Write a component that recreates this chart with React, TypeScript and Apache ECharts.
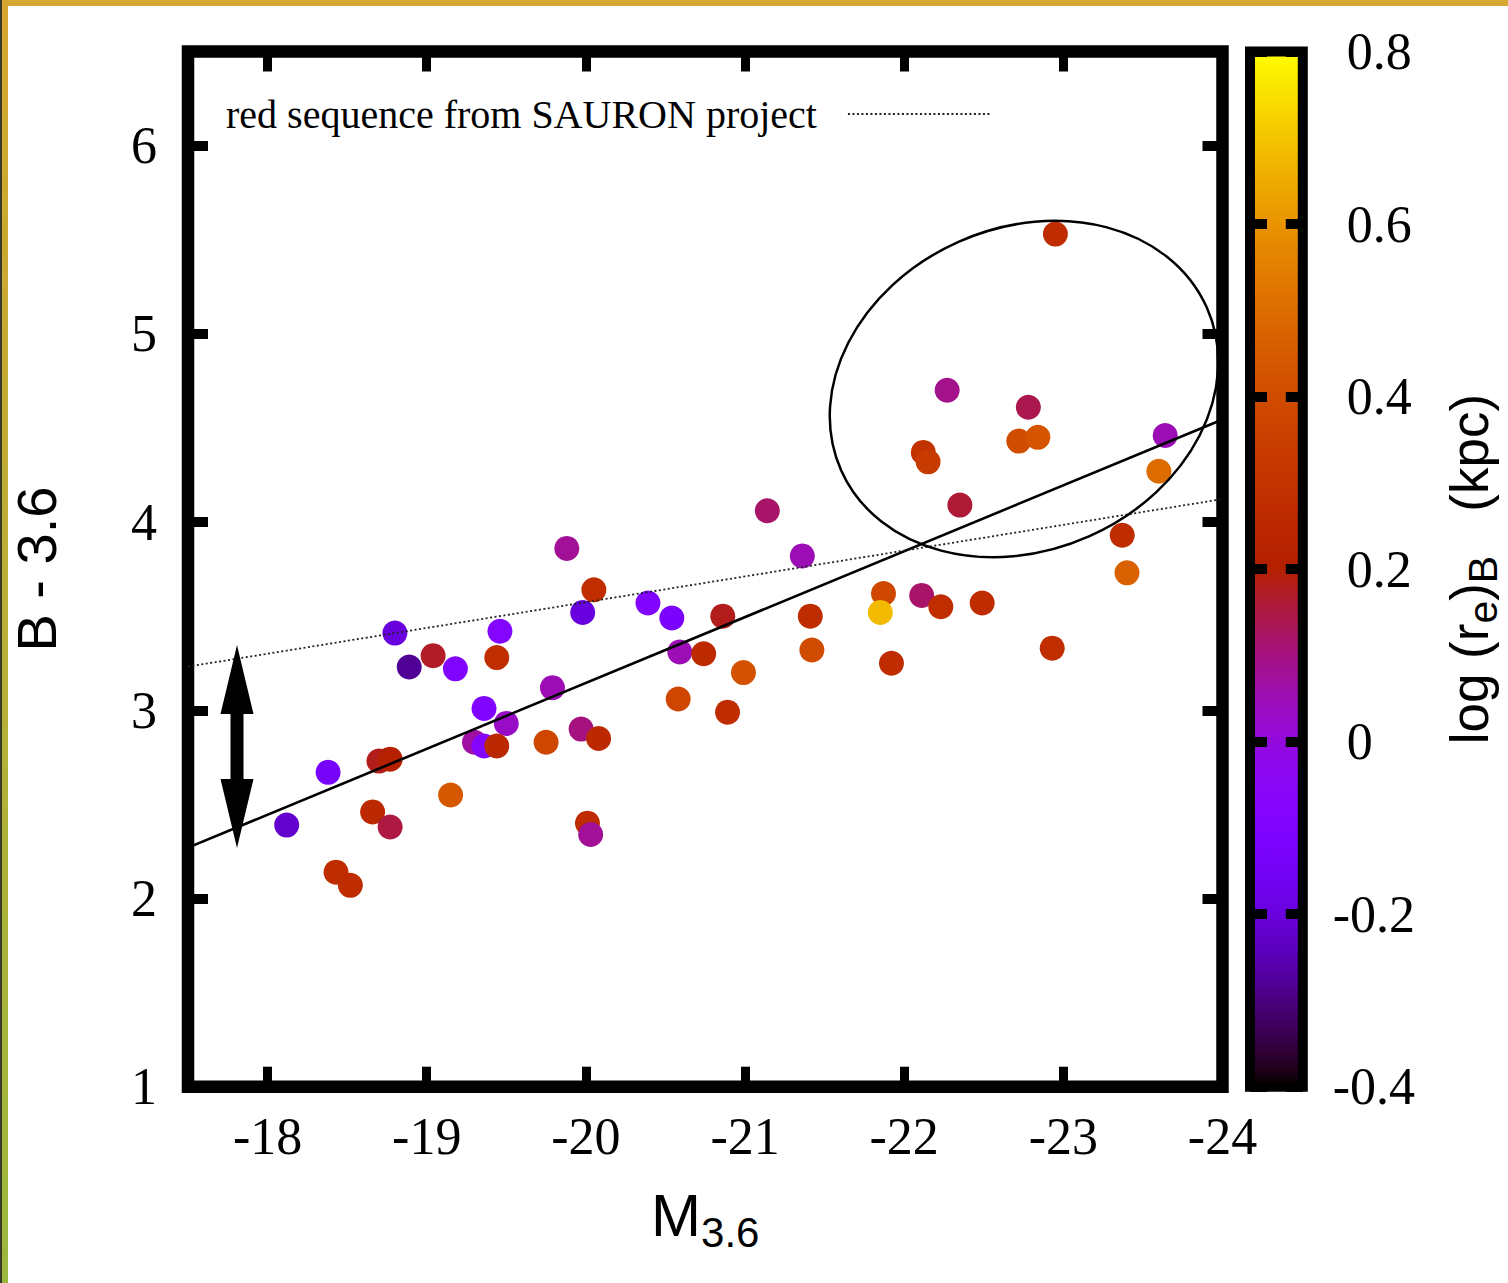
import React, { useEffect, useRef } from 'react';
import * as echarts from 'echarts';

// ---- data ----
const absMag = [
  -19.88, -20.05, -19.98, -20.39, -20.54, -20.59, -20.74, -20.58, -18.80, -18.89,
  -19.04, -19.18, -19.46, -19.44, -19.79, -19.36, -19.50, -19.30, -19.36, -19.44,
  -19.75, -19.97, -20.08, -18.38, -18.70, -18.77, -18.12, -18.66, -18.77, -19.15,
  -20.01, -20.03, -18.43, -18.52, -22.95, -22.27, -22.78, -22.72, -22.84, -22.12,
  -22.15, -23.64, -23.60, -22.35, -21.14, -21.36, -23.37, -23.40, -21.87, -21.85,
  -22.11, -22.23, -22.49, -20.86, -21.41, -21.42, -20.99, -21.92, -22.93, -20.89,
];
const colorBI = [
  3.86, 3.64, 3.52, 3.57, 3.49, 3.31, 3.30, 3.06, 3.41, 3.23,
  3.29, 3.22, 3.42, 3.28, 3.12, 3.01, 2.93, 2.83, 2.81, 2.81,
  2.83, 2.90, 2.85, 2.67, 2.73, 2.74, 2.39, 2.46, 2.38, 2.55,
  2.40, 2.34, 2.14, 2.07, 5.53, 4.70, 4.61, 4.43, 4.45, 4.37,
  4.32, 4.46, 4.27, 4.09, 4.06, 3.82, 3.93, 3.73, 3.62, 3.52,
  3.61, 3.55, 3.57, 3.50, 3.50, 3.32, 3.20, 3.25, 3.33, 2.99,
];
const logRe = [
  0.08, 0.28, -0.20, -0.10, -0.12, 0.05, 0.26, 0.38, -0.20, -0.28,
  0.17, -0.10, -0.08, 0.28, 0.05, -0.10, 0.03, 0.07, -0.08, 0.25,
  0.38, 0.10, 0.25, -0.14, 0.18, 0.20, -0.22, 0.25, 0.15, 0.44,
  0.27, 0.08, 0.27, 0.27, 0.27, 0.09, 0.14, 0.40, 0.43, 0.30,
  0.33, 0.05, 0.50, 0.16, 0.12, 0.05, 0.27, 0.47, 0.38, 0.68,
  0.12, 0.28, 0.27, 0.18, 0.27, 0.40, 0.42, 0.27, 0.28, 0.27,
];
// fitted relation (solid) and SAURON red sequence (dotted)
const fitLineX = [-17.5, -24];
const fitLineY = [2.27, 4.545];
const sauronX = [-17.5, -24];
const sauronY = [3.232, 4.122];

// axis ranges
const xRange = [-24, -17.5];
const yRange = [1, 6.5];
const cbRange = [-0.4, 0.8];
const sauronName = 'red sequence from SAURON project';

// gnuplot default palette (rgbformulae 7,5,15)
function gp(t: number) {
  const r = Math.sqrt(t);
  const g = t * t * t;
  const b = Math.max(0, Math.sin(2 * Math.PI * t));
  const c = (v: number) => Math.round(Math.min(1, Math.max(0, v)) * 255);
  return `rgb(${c(r)},${c(g)},${c(b)})`;
}
const N = 60;
const paletteColors: string[] = [];
for (let i = 0; i <= N; i++) paletteColors.push(gp(i / N));

export default function App() {
  const ref = useRef<HTMLDivElement>(null);
  useEffect(() => {
    const chart = echarts.init(ref.current!, null, { renderer: 'svg' });
    const scatterData = absMag.map((x, i) => [x, colorBI[i], logRe[i]]);
    const fitData = fitLineX.map((x, i) => [x, fitLineY[i]]);
    const sauronData = sauronX.map((x, i) => [x, sauronY[i]]);
    const serif = 'Liberation Serif';
    const sans = 'Liberation Sans';
    const tickLabel = { fontFamily: serif, fontSize: 52, color: '#000' };
    const cbGradient = {
      type: 'linear', x: 0, y: 1, x2: 0, y2: 0,
      colorStops: paletteColors.map((c, i) => ({ offset: i / N, color: c })),
    };
    const fmtCb = (v: number) => {
      const s = Math.abs(v) < 1e-9 ? '0' : String(+v.toFixed(1));
      return v < -1e-9 ? '{n|' + s + '}' : '{p|' + s + '}';
    };
    const option: any = {
      animation: false,
      backgroundColor: '#fff',
      grid: [
        { left: 187.6, top: 51.5, width: 1034.9, height: 1035.2, show: true, borderColor: '#000', borderWidth: 12.5, backgroundColor: 'transparent' },
        { left: 1250, top: 51.5, width: 52.8, height: 1035.2, show: true, borderColor: '#000', borderWidth: 10, backgroundColor: cbGradient },
      ],
      xAxis: [
        {
          gridIndex: 0, type: 'value', min: xRange[0], max: xRange[1], interval: 1, inverse: true, position: 'bottom',
          axisLine: { show: false }, splitLine: { show: false },
          axisTick: { show: true, inside: true, length: 20, lineStyle: { color: '#000', width: 9 } },
          axisLabel: { ...tickLabel, margin: 24, showMaxLabel: false },
          name: '{m|M}{s|3.6}', nameLocation: 'middle', nameGap: 91,
          nameTextStyle: {
            rich: {
              m: { fontFamily: sans, fontSize: 60, color: '#000' },
              s: { fontFamily: sans, fontSize: 42, color: '#000', padding: [34, 0, 0, 0] },
            },
          },
        },
        {
          gridIndex: 0, type: 'value', min: xRange[0], max: xRange[1], interval: 1, inverse: true, position: 'top',
          axisLine: { show: false }, splitLine: { show: false },
          axisTick: { show: true, inside: true, length: 20, lineStyle: { color: '#000', width: 9 } },
          axisLabel: { show: false },
        },
        { gridIndex: 1, type: 'value', min: 0, max: 1, show: false },
      ],
      yAxis: [
        {
          gridIndex: 0, type: 'value', min: yRange[0], max: yRange[1], interval: 1, position: 'left',
          axisLine: { show: false }, splitLine: { show: false },
          axisTick: { show: true, inside: true, length: 20, lineStyle: { color: '#000', width: 10 } },
          axisLabel: { ...tickLabel, margin: 31, showMaxLabel: false },
          name: 'B - 3.6', nameLocation: 'middle', nameRotate: 90, nameGap: 124,
          nameTextStyle: { fontFamily: sans, fontSize: 56, color: '#000' },
        },
        {
          gridIndex: 0, type: 'value', min: yRange[0], max: yRange[1], interval: 1, position: 'right',
          axisLine: { show: false }, splitLine: { show: false },
          axisTick: { show: true, inside: true, length: 20, lineStyle: { color: '#000', width: 10 } },
          axisLabel: { show: false },
        },
        {
          gridIndex: 1, type: 'value', min: cbRange[0], max: cbRange[1], interval: 0.2, position: 'left',
          axisLine: { show: false }, splitLine: { show: false },
          axisTick: { show: true, inside: true, length: 17, lineStyle: { color: '#000', width: 10 } },
          axisLabel: { show: false },
        },
        {
          gridIndex: 1, type: 'value', min: cbRange[0], max: cbRange[1], interval: 0.2, position: 'right',
          axisLine: { show: false }, splitLine: { show: false },
          axisTick: { show: true, inside: true, length: 17, lineStyle: { color: '#000', width: 10 } },
          axisLabel: {
            margin: 30, align: 'left', formatter: fmtCb,
            rich: {
              p: { ...tickLabel, padding: [0, 0, 0, 14] },
              n: { ...tickLabel },
            },
          },
          name: '{t|log (r}{s|e}{t|)}{s|B}{t|   (kpc)}', nameLocation: 'middle', nameRotate: 90, nameGap: 132,
          nameTextStyle: {
            rich: {
              t: { fontFamily: sans, fontSize: 53, color: '#000' },
              s: { fontFamily: sans, fontSize: 41, color: '#000', padding: [28, 0, 0, 0] },
            },
          },
        },
      ],
      visualMap: {
        type: 'continuous', show: false, seriesIndex: 0, dimension: 2,
        min: cbRange[0], max: cbRange[1], inRange: { color: paletteColors },
      },
      legend: {
        data: [sauronName], left: 226, top: 94, padding: 0, align: 'right', selectedMode: false,
        itemWidth: 142, itemHeight: 12,
        itemStyle: { opacity: 0 },
        textStyle: { fontFamily: serif, fontSize: 40, color: '#000', padding: [0, 26, 0, 0] },
      },
      series: [
        {
          type: 'scatter', xAxisIndex: 0, yAxisIndex: 0, data: scatterData, symbol: 'circle', symbolSize: 25, z: 2, silent: true,
          itemStyle: { opacity: 1 },
        },
        {
          type: 'line', xAxisIndex: 0, yAxisIndex: 0, data: fitData, symbol: 'none', z: 3, silent: true,
          lineStyle: { color: '#000', width: 2.6 },
        },
        {
          name: sauronName, type: 'line', xAxisIndex: 0, yAxisIndex: 0, data: sauronData, symbol: 'none', z: 3, silent: true,
          color: '#222', lineStyle: { color: '#222', width: 1.8, type: [2, 2.5] },
        },
      ],
      graphic: [
        { type: 'rect', shape: { x: 0, y: 0, width: 1508, height: 6 }, style: { fill: '#d5a730' }, z: 10 },
        {
          type: 'rect', shape: { x: 2, y: 0, width: 6, height: 1283 }, z: 10,
          style: { fill: { type: 'linear', x: 0, y: 0, x2: 0, y2: 1, colorStops: [{ offset: 0, color: '#d6a62f' }, { offset: 1, color: '#9ab83c' }] } },
        },
        { type: 'rect', shape: { x: 0, y: 0, width: 2, height: 1283 }, style: { fill: '#3a3a2a' }, z: 10 },
        {
          type: 'ellipse', x: 1024, y: 389, rotation: (24 * Math.PI) / 180, z: 10,
          shape: { cx: 0, cy: 0, rx: 200, ry: 161 },
          style: { fill: 'none', stroke: '#000', lineWidth: 2.5 },
        },
        {
          type: 'polygon', z: 10,
          shape: {
            points: [
              [237, 645], [253.5, 714], [243.5, 714], [243.5, 779], [253.5, 779], [237, 848],
              [220.5, 779], [230.5, 779], [230.5, 714], [220.5, 714],
            ],
          },
          style: { fill: '#000' },
        },
      ],
    };
    chart.setOption(option);
    return () => chart.dispose();
  }, []);
  return (
    <div
      ref={ref}
      style={{ position: 'absolute', left: 0, top: 0, width: 1508, height: 1283, background: '#fff' }}
    />
  );
}
